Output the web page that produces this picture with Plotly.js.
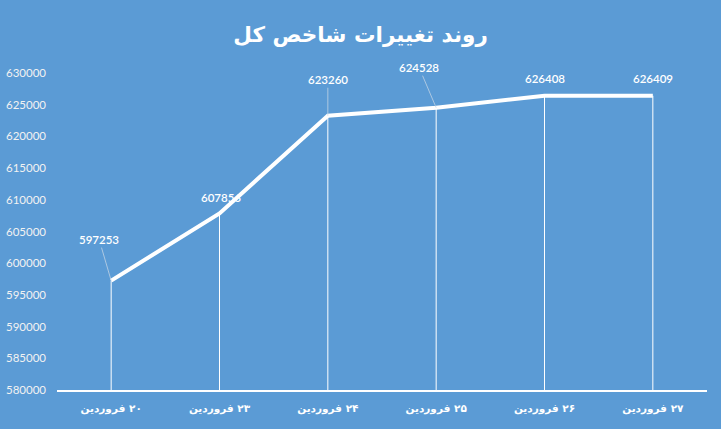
<!DOCTYPE html>
<html>
<head>
<meta charset="utf-8">
<script src="https://cdn.plot.ly/plotly-3.0.1.min.js"></script>
<style>html,body{margin:0;padding:0;background:#5B9BD5;}#chart{width:721px;height:429px;}</style>
</head>
<body>
<div id="chart"></div>
<script>
const categories = ["\u200F۲۰ فروردین", "\u200F۲۳ فروردین", "\u200F۲۴ فروردین", "\u200F۲۵ فروردین", "\u200F۲۶ فروردین", "\u200F۲۷ فروردین"];
const indexValues = [597253, 607856, 623260, 624528, 626408, 626409];
const yTickValues = [580000, 585000, 590000, 595000, 600000, 605000, 610000, 615000, 620000, 625000, 630000];
const chartTitle = "روند تغییرات شاخص کل";

const yMin = 580000, yMax = 630000;

const trace = {
  x: categories,
  y: indexValues,
  type: 'scatter',
  mode: 'lines',
  line: {color: '#FFFFFF', width: 4},
  cliponaxis: false,
  hoverinfo: 'skip',
  error_y: {
    type: 'data',
    symmetric: false,
    array: indexValues.map(() => 0),
    arrayminus: indexValues.map(v => v - yMin),
    color: '#FFFFFF',
    thickness: 1,
    width: 0
  }
};

// label offsets in pixels (layout styling)
const offsets = [[-12, -41], [1, -16], [0, -36], [-17, -40], [0, -17], [0, -17]];
const leaderShown = [true, false, true, true, false, false];

const annotations = indexValues.map((v, i) => ({
  x: categories[i],
  y: v,
  xref: 'x', yref: 'y',
  text: String(v),
  showarrow: true,
  arrowhead: 0,
  arrowwidth: 1,
  arrowcolor: leaderShown[i] ? 'rgba(200,215,230,0.75)' : 'rgba(0,0,0,0)',
  standoff: 0,
  ax: offsets[i][0],
  ay: offsets[i][1],
  font: {family: 'Lato, sans-serif', size: 11.5, color: '#FFFFFF', weight: 600}
}));

const layout = {
  width: 721,
  height: 429,
  paper_bgcolor: '#5B9BD5',
  plot_bgcolor: '#5B9BD5',
  margin: {l: 57, r: 14, t: 73, b: 39},
  showlegend: false,
  title: {
    text: '<b>' + chartTitle + '</b>',
    font: {family: 'DejaVu Sans, sans-serif', size: 21.5, color: '#FFFFFF'},
    x: 0.5, xanchor: 'center',
    y: 0.92, yanchor: 'middle'
  },
  xaxis: {
    type: 'category',
    showgrid: false,
    zeroline: false,
    showline: true,
    linecolor: '#FFFFFF',
    linewidth: 1.5,
    ticks: '',
    tickfont: {family: 'DejaVu Sans, sans-serif', size: 10.5, color: '#FFFFFF', weight: 'bold'},
    ticklabelstandoff: 8,
    range: [-0.5, 5.5],
    fixedrange: true
  },
  yaxis: {
    range: [yMin, yMax],
    tickvals: yTickValues,
    ticktext: yTickValues.map(String),
    showgrid: false,
    zeroline: false,
    showline: false,
    ticks: '',
    tickfont: {family: 'Lato, sans-serif', size: 11.5, color: '#F2F2F2'},
    ticklabelstandoff: 10,
    fixedrange: true
  },
  annotations: annotations
};

Plotly.newPlot('chart', [trace], layout, {displayModeBar: false, staticPlot: true});
</script>
</body>
</html>
